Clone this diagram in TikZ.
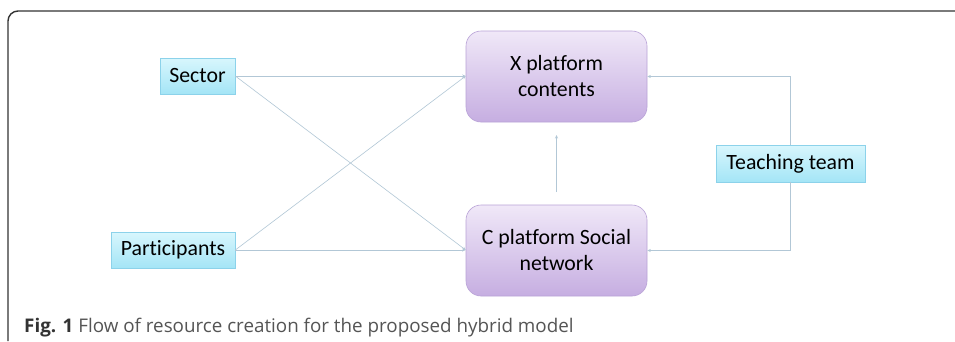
\documentclass[tikz,border=0pt]{standalone}
\usepackage{fontspec}
\setmainfont{Carlito}[Ligatures=NoCommon]
\newfontfamily\capfont{Open Sans}
\usetikzlibrary{arrows.meta}
\definecolor{cyantop}{HTML}{D8F6FD}
\definecolor{cyanbot}{HTML}{A4E5F6}
\definecolor{cyanedge}{HTML}{8CD2EA}
\definecolor{purtop}{HTML}{F0E8F8}
\definecolor{purbot}{HTML}{C6AEE1}
\definecolor{puredge}{HTML}{B9A3D7}
\definecolor{linkcol}{HTML}{B2C7D6}
\definecolor{framecol}{HTML}{333333}
\definecolor{capgray}{HTML}{555555}
\tikzset{
  cyanbox/.style={draw=cyanedge, line width=0.6pt, top color=cyantop, bottom color=cyanbot,
    inner sep=0pt, font=\fontsize{21.8}{26}\selectfont, text=black},
  purbox/.style={draw=puredge, line width=0.6pt, top color=purtop, bottom color=purbot,
    rounded corners=15pt, inner sep=0pt, minimum width=181pt, minimum height=91pt,
    align=center, font=\fontsize{21.8}{26}\selectfont, text=black},
  link/.style={draw=linkcol, line width=0.6pt},
  arr/.style={link, -{Stealth[length=3.5pt,width=3pt]}},
}
\begin{document}
\begin{tikzpicture}[x=1pt,y=-1pt]
\useasboundingbox (0,0) rectangle (955,341);
\fill[white] (0,0) rectangle (955,341);
\draw[framecol, line width=1.4pt, rounded corners=10pt] (8,341) -- (8,11) -- (955,11);
\node[cyanbox, minimum width=75pt, minimum height=36pt] (sector) at (197.5,76) {Sector};
\node[cyanbox, minimum width=124pt, minimum height=36pt] (part) at (173,250) {Participants};
\node[cyanbox, minimum width=149pt, minimum height=37pt] (team) at (790.5,163.5) {Teaching team};
\node[purbox] (xp) at (556.5,76.5) {X platform\\contents};
\node[purbox] (cp) at (556.5,250.5) {C platform Social\\network};
\coordinate (xpin) at (xp.west |- sector.east);
\coordinate (cpin) at (cp.west |- part.east);
\draw[arr] (sector.east) -- (xpin);
\draw[arr] (sector.east) -- (cpin);
\draw[arr] (part.east) -- (xpin);
\draw[arr] (part.east) -- (cpin);
\coordinate (vbot) at (556.5,192);
\coordinate (vtop) at (556.5,135);
\draw[arr] (vbot) -- (vtop);
\draw[arr] (team.north) |- (xp.east);
\draw[arr] (team.south) |- (cp.east);
\node[anchor=base west, inner sep=0pt, font=\capfont\fontsize{18.8}{22}\selectfont, text=capgray] (cap) at (24,332)
  {\textcolor{framecol}{\textbf{Fig. 1}} Flow of resource creation for the proposed hybrid model};
\end{tikzpicture}
\end{document}
